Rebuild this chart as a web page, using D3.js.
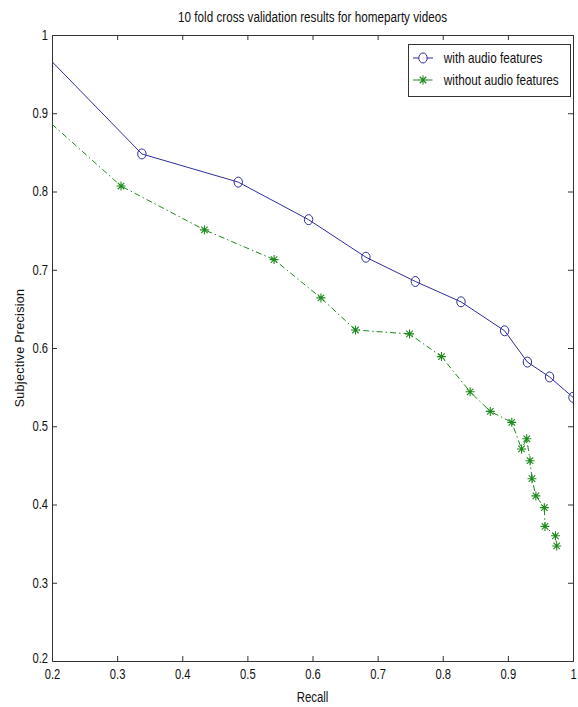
<!DOCTYPE html>
<html>
<head>
<meta charset="utf-8">
<script src="https://cdn.jsdelivr.net/npm/d3@7"></script>
<style>
  html, body { margin: 0; padding: 0; background: #fff; }
  svg { display: block; font-family: "Liberation Sans", Arial, sans-serif; }
  .cond { transform-box: fill-box; transform-origin: center; transform: scaleX(0.8); }
  .condL { transform-box: fill-box; transform-origin: left center; transform: scaleX(0.84); }
  .condR { transform-box: fill-box; transform-origin: right center; transform: scaleX(0.8); }
</style>
</head>
<body>
<svg id="chart" width="578" height="707"></svg>
<script>
const title = "10 fold cross validation results for homeparty videos";
const xLabel = "Recall";
const yLabel = "Subjective Precision";
const seriesNames = ["with audio features", "without audio features"];

const xTicks = [0.2, 0.3, 0.4, 0.5, 0.6, 0.7, 0.8, 0.9, 1];
const yTicks = [0.2, 0.3, 0.4, 0.5, 0.6, 0.7, 0.8, 0.9, 1];

const withAudioRecall    = [0.2, 0.338, 0.486, 0.594, 0.682, 0.758, 0.828, 0.895, 0.930, 0.964, 1.0];
const withAudioPrecision = [0.966, 0.848, 0.812, 0.764, 0.716, 0.685, 0.659, 0.622, 0.582, 0.563, 0.537];

const withoutAudioRecall    = [0.2, 0.306, 0.434, 0.541, 0.613, 0.666, 0.749, 0.798, 0.842, 0.873, 0.906, 0.921, 0.929, 0.934, 0.937, 0.943, 0.956, 0.957, 0.973, 0.975];
const withoutAudioPrecision = [0.886, 0.807, 0.751, 0.713, 0.664, 0.623, 0.618, 0.589, 0.544, 0.519, 0.505, 0.471, 0.484, 0.456, 0.433, 0.411, 0.396, 0.372, 0.360, 0.347];

const svg = d3.select("#chart");
const L = 52, R = 573, T = 35, B = 661;
const x = d3.scaleLinear().domain([0.2, 1]).range([L, R]);
const y = d3.scaleLinear().domain([0.2, 1]).range([B, T]);

const axisColor = "#333";
const blue = "#2f2f9c";
const green = "#1c8a1c";

svg.append("clipPath").attr("id", "clip")
  .append("rect").attr("x", L).attr("y", T).attr("width", R - L).attr("height", B - T);

const tickLen = 5;
const fmt = d => d === 1 ? "1" : d3.format(".1f")(d);
const xb = svg.append("g").attr("transform", `translate(0,${B})`)
  .call(d3.axisBottom(x).tickValues(xTicks).tickSize(-tickLen).tickPadding(8).tickFormat(fmt));
const xt = svg.append("g").attr("transform", `translate(0,${T})`)
  .call(d3.axisTop(x).tickValues(xTicks).tickSize(-tickLen).tickFormat(""));
const yl = svg.append("g").attr("transform", `translate(${L},0)`)
  .call(d3.axisLeft(y).tickValues(yTicks).tickSize(-tickLen).tickPadding(4).tickFormat(fmt));
const yr = svg.append("g").attr("transform", `translate(${R},0)`)
  .call(d3.axisRight(y).tickValues(yTicks).tickSize(-tickLen).tickFormat(""));
[xb, xt, yl, yr].forEach(g => {
  g.selectAll(".domain").attr("stroke", axisColor).attr("stroke-width", 1);
  g.selectAll(".tick line").attr("stroke", axisColor);
  g.selectAll(".tick text").attr("fill", "#111").attr("font-size", 14);
});
xb.selectAll(".tick text").attr("class", "cond");
yl.selectAll(".tick text").attr("class", "condR");
[xb, xt, yl, yr].forEach(g =>
  g.selectAll(".tick").filter(d => d === 0.2 || d === 1).select("line").remove());
yl.selectAll(".tick").filter(d => d === 0.2).select("text").attr("dy", "0.1em");

svg.append("text").attr("class", "cond").style("transform", "scaleX(0.78)")
  .attr("x", (L + R) / 2).attr("y", 22).attr("text-anchor", "middle")
  .attr("font-size", 15).attr("fill", "#111").text(title);
svg.append("text").attr("class", "cond").style("transform", "scaleX(0.76)")
  .attr("x", (L + R) / 2).attr("y", 702).attr("text-anchor", "middle")
  .attr("font-size", 15).attr("fill", "#111").text(xLabel);
svg.append("text").attr("transform", `translate(24,${(T + B) / 2}) rotate(-90)`)
  .attr("text-anchor", "middle").attr("font-size", 12.5).attr("letter-spacing", 0.3)
  .attr("fill", "#111").text(yLabel);

const withAudio = withAudioRecall.map((r, i) => ({ r, p: withAudioPrecision[i] }));
const withoutAudio = withoutAudioRecall.map((r, i) => ({ r, p: withoutAudioPrecision[i] }));
const line = d3.line().x(d => x(d.r)).y(d => y(d.p));
const plot = svg.append("g").attr("clip-path", "url(#clip)");

plot.append("path").datum(withoutAudio).attr("d", line)
  .attr("fill", "none").attr("stroke", green).attr("stroke-width", 1)
  .attr("stroke-dasharray", "6,3,1.5,3");
plot.append("path").datum(withAudio).attr("d", line)
  .attr("fill", "none").attr("stroke", blue).attr("stroke-width", 1);

const starPath = (cx, cy, s) => {
  const d = s * 0.72;
  return `M${cx - s},${cy}L${cx + s},${cy}M${cx},${cy - s}L${cx},${cy + s}` +
         `M${cx - d},${cy - d}L${cx + d},${cy + d}M${cx - d},${cy + d}L${cx + d},${cy - d}`;
};

plot.selectAll(".star").data(withoutAudio.filter(d => d.r > 0.2)).enter()
  .append("path").attr("class", "star")
  .attr("d", d => starPath(x(d.r), y(d.p), 4.5))
  .attr("stroke", green).attr("stroke-width", 1.1).attr("fill", "none");
plot.selectAll(".circ").data(withAudio.filter(d => d.r > 0.2)).enter()
  .append("ellipse").attr("class", "circ")
  .attr("cx", d => x(d.r)).attr("cy", d => y(d.p)).attr("rx", 4.2).attr("ry", 5)
  .attr("stroke", blue).attr("stroke-width", 1).attr("fill", "none");

const lg = svg.append("g");
lg.append("rect").attr("x", 408.5).attr("y", 44.5).attr("width", 162).attr("height", 52)
  .attr("fill", "#fff").attr("stroke", axisColor).attr("stroke-width", 1);
const rows = [
  { name: seriesNames[0], color: blue, dash: null, marker: "circle", yy: 58 },
  { name: seriesNames[1], color: green, dash: "6,3,1.5,3", marker: "star", yy: 80 }
];
rows.forEach(r => {
  lg.append("line").attr("x1", 413).attr("x2", 433).attr("y1", r.yy).attr("y2", r.yy)
    .attr("stroke", r.color).attr("stroke-width", 1).attr("stroke-dasharray", r.dash);
  if (r.marker === "circle") {
    lg.append("ellipse").attr("cx", 423).attr("cy", r.yy).attr("rx", 4.2).attr("ry", 5)
      .attr("fill", "#fff").attr("stroke", r.color);
  } else {
    lg.append("path").attr("d", starPath(423, r.yy, 4.5)).attr("stroke", r.color)
      .attr("stroke-width", 1.1).attr("fill", "none");
  }
  lg.append("text").attr("class", "condL").attr("x", 444).attr("y", r.yy + 5)
    .attr("font-size", 14).attr("fill", "#111").text(r.name);
});
</script>
</body>
</html>
